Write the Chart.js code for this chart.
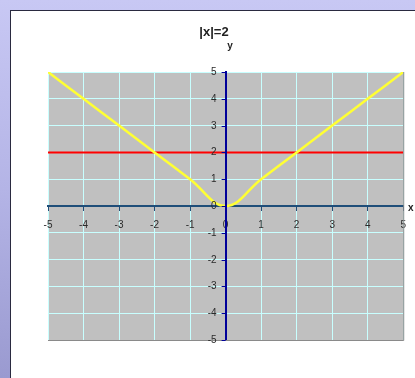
<!DOCTYPE html>
<html lang="en">
<head>
  <meta charset="UTF-8" />
  <title>|x|=2</title>
  <script src="https://cdn.jsdelivr.net/npm/chart.js"></script>
  <style>
    html, body {
      margin: 0;
      width: 415px;
      height: 378px;
      overflow: hidden;
    }
    body {
      background: linear-gradient(to bottom, #c8c8f4 0%, #b4b4e6 50%, #9a9ad0 100%);
      position: relative;
    }
    .frame {
      position: absolute;
      left: 10px;
      top: 10px;
      width: 404px;
      height: 367px;
      background: #fff;
      border-left: 1px solid #2a2a40;
      border-top: 1px solid #2a2a40;
    }
    canvas {
      display: block;
    }
  </style>
</head>
<body>
  <div class="frame">
    <canvas id="abs-chart" width="404" height="367"></canvas>
  </div>

  <script>
    const xValues = [-5, -4, -3, -2, -1, 0, 1, 2, 3, 4, 5];
    const absValues = [5, 4, 3, 2, 1, 0, 1, 2, 3, 4, 5];
    const lineValues = [2, 2, 2, 2, 2, 2, 2, 2, 2, 2, 2];
    const axisTicks = [-5, -4, -3, -2, -1, 0, 1, 2, 3, 4, 5];

    const toPoints = (ys) => xValues.map((x, i) => ({ x, y: ys[i] }));
    const fontFamily = "'Liberation Sans', Arial, sans-serif";

    // gray plot background, titles, y tick labels and the small axis letters
    const decorations = {
      id: "decorations",
      beforeDraw(chart) {
        const { ctx, chartArea: a } = chart;
        ctx.save();
        ctx.fillStyle = "#c0c0c0";
        ctx.fillRect(a.left, a.top, a.right - a.left, a.bottom - a.top);
        ctx.restore();
      },
      afterDraw(chart) {
        const { ctx, chartArea: a, scales } = chart;
        ctx.save();
        ctx.strokeStyle = "#8a8a8a";
        ctx.lineWidth = 1;
        ctx.beginPath();
        ctx.moveTo(a.left, a.bottom + 0.5);
        ctx.lineTo(a.right + 0.5, a.bottom + 0.5);
        ctx.lineTo(a.right + 0.5, a.top);
        ctx.stroke();

        // y labels sit left of the centred axis, with small tick marks
        const axisX = scales.x.getPixelForValue(0);
        ctx.strokeStyle = "#000099";
        ctx.lineWidth = 1;
        ctx.fillStyle = "#2a2a2a";
        ctx.font = "10px " + fontFamily;
        ctx.textAlign = "right";
        ctx.textBaseline = "middle";
        axisTicks.forEach(v => {
          const py = Math.round(scales.y.getPixelForValue(v)) + 0.5;
          ctx.beginPath();
          ctx.moveTo(axisX - 4, py);
          ctx.lineTo(axisX, py);
          ctx.stroke();
          ctx.fillText(String(v), axisX - 9, py);
        });

        ctx.fillStyle = "#222";
        ctx.textAlign = "center";
        ctx.font = "bold 13px " + fontFamily;
        ctx.fillText("|x|=2", 203, 21);
        ctx.font = "bold 10px " + fontFamily;
        ctx.fillText("y", 219, 35);
        ctx.textAlign = "left";
        ctx.fillText("x", 397, 197);
        ctx.restore();
      }
    };

    new Chart(document.getElementById("abs-chart"), {
      type: "scatter",
      data: {
        datasets: [
          {
            label: "|x|",
            data: toPoints(absValues),
            showLine: true,
            borderColor: "#ffff33",
            borderWidth: 2.5,
            pointRadius: 0,
            tension: 0.4
          },
          {
            label: "2",
            data: toPoints(lineValues),
            showLine: true,
            borderColor: "#ff0000",
            borderWidth: 2,
            pointRadius: 0
          }
        ]
      },
      options: {
        responsive: false,
        animation: false,
        layout: { padding: { left: 37, right: 11, top: 61, bottom: 38 } },
        plugins: {
          legend: { display: false },
          tooltip: { enabled: false }
        },
        scales: {
          x: {
            type: "linear",
            min: -5,
            max: 5,
            position: { y: 0 },
            afterBuildTicks: (s) => { s.ticks = axisTicks.map(v => ({ value: v })); },
            ticks: { color: "#2a2a2a", font: { family: fontFamily, size: 10 }, padding: 9, maxRotation: 0 },
            grid: { color: "#c8ffff", lineWidth: 1, tickColor: "#1f4e79", tickLength: 4 },
            border: { color: "#1f4e79", width: 2 }
          },
          y: {
            type: "linear",
            min: -5,
            max: 5,
            position: { x: 0 },
            afterBuildTicks: (s) => { s.ticks = axisTicks.map(v => ({ value: v })); },
            ticks: { display: false },
            grid: { color: "#c8ffff", lineWidth: 1, drawTicks: false },
            border: { color: "#000099", width: 2, z: 1 }
          }
        }
      },
      plugins: [decorations]
    });
  </script>
</body>
</html>
